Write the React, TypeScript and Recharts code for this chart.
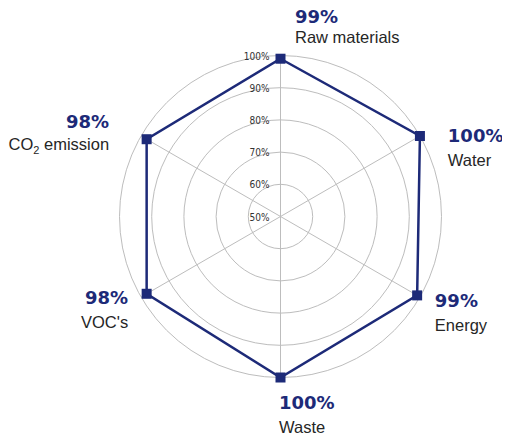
import { RadarChart, PolarGrid, PolarAngleAxis, PolarRadiusAxis, Radar } from 'recharts'

const categories = ['Raw materials', 'Water', 'Energy', 'Waste', "VOC's", 'CO2 emission']
const scores = [99, 100, 99, 100, 98, 98]
const radiusTicks = [50, 60, 70, 80, 90, 100]

const NAVY = '#1d2a78'

const data = categories.map((name, i) => ({ name, score: scores[i] }))

// where each category label sits relative to its axis end
const labelPlacement = [
  { dx: 14.5, dy: -24.5, gap: 20, anchor: 'start' },
  { dx: 21, dy: 10, gap: 24, anchor: 'start' },
  { dx: 8, dy: 6, gap: 24, anchor: 'start' },
  { dx: -1.5, dy: 23.5, gap: 24, anchor: 'start' },
  { dx: -6, dy: 3, gap: 24, anchor: 'end' },
  { dx: -25, dy: -4, gap: 22, anchor: 'end' },
]

function AngleTick(props: any) {
  const { x, y, payload } = props
  const i = categories.indexOf(payload.value)
  const p = labelPlacement[i]
  const tx = x + p.dx
  const name = payload.value as string
  return (
    <g>
      <text
        x={tx}
        y={y + p.dy}
        textAnchor={p.anchor}
        fill={NAVY}
        fontFamily='"DejaVu Sans", sans-serif'
        fontWeight="bold"
        fontSize={18}
      >
        {scores[i]}%
      </text>
      <text
        x={tx}
        y={y + p.dy + p.gap}
        textAnchor={p.anchor}
        fill="#262626"
        fontFamily='"Liberation Sans", Arial, sans-serif'
        fontSize={16.5}
      >
        {name.startsWith('CO2') ? (
          <>
            <tspan>CO</tspan>
            <tspan dy={4} fontSize={11}>2</tspan>
            <tspan dy={-4}> emission</tspan>
          </>
        ) : (
          name
        )}
      </text>
    </g>
  )
}

function RadiusTick(props: any) {
  const { x, y, payload } = props
  return (
    <text
      x={x - 11}
      y={y + 4}
      textAnchor="end"
      fill="#333"
      fontFamily='"DejaVu Sans", sans-serif'
      style={{ fontStretch: 'condensed' }}
      fontSize={10}
    >
      {payload.value}%
    </text>
  )
}

function SquareDot(props: any) {
  const { cx, cy } = props
  return <rect x={cx - 5} y={cy - 5} width={10} height={10} fill={NAVY} />
}

export default function App() {
  return (
    <div style={{ width: 510, height: 436, margin: '-8px 0 0 -8px' }}>
      <RadarChart
        width={510}
        height={436}
        data={data}
        cx={280.5}
        cy={216.5}
        outerRadius={161}
        margin={{ top: 0, right: 0, bottom: 0, left: 0 }}
      >
        <PolarGrid gridType="circle" stroke="#bdbdbd" strokeWidth={1} />
        <PolarAngleAxis dataKey="name" tick={AngleTick} tickLine={false} axisLine={false} />
        <PolarRadiusAxis
          angle={90}
          domain={[50, 100]}
          ticks={radiusTicks as any}
          tickCount={6}
          axisLine={false}
          tick={RadiusTick}
        />
        <Radar
          dataKey="score"
          stroke={NAVY}
          strokeWidth={2.5}
          fill="none"
          fillOpacity={0}
          dot={SquareDot}
          isAnimationActive={false}
        />
      </RadarChart>
    </div>
  )
}
